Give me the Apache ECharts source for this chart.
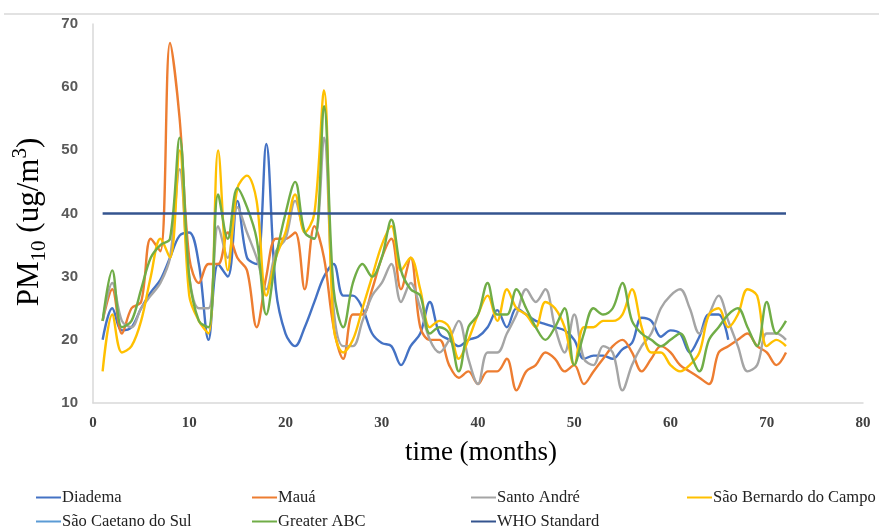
<!DOCTYPE html>
<html>
<head>
<meta charset="utf-8">
<script src="https://cdn.jsdelivr.net/npm/echarts@6/dist/echarts.min.js"></script>
<style>html,body{margin:0;padding:0;background:#fff}#c{width:879px;height:529px}</style>
</head>
<body>
<div id="c"></div>
<script>
var months = [1,2,3,4,5,6,7,8,9,10,11,12,13,14,15,16,17,18,19,20,21,22,23,24,25,26,27,28,29,30,31,32,33,34,35,36,37,38,39,40,41,42,43,44,45,46,47,48,49,50,51,52,53,54,55,56,57,58,59,60,61,62,63,64,65,66,67,68,69,70,71,72];
var xTicks = [0,10,20,30,40,50,60,70,80];
var yTicks = [10,20,30,40,50,60,70];

var diadema = [20,25,21.5,22,25,27.5,29.5,33,36.5,37,32,20, 32,30,42,33,32,51,28,21,19,22,26,30, 32,27,27,25,21,19.5,19,16,19,21,26,21, 20,19,20,20.5,22,24.7,22,25,24,23,22.5,22, 21.5,20,17,17.5,17.5,17,18.5,19.5,23.5,23,20.5,21.5, 21,18,20.5,24,24,20];
var maua = [23,28,21,25,26,36,34,67,55,33,29,32, 32,37,33,31,22,30,36,36,37,28,38,33, 22,17,24,24,28,33,36,28,33,22,20,20, 16,14,15,13,15,15,17,12,15,16,18,17, 15,16,13,15,17,19,20,18,15,17,19,18, 16,15,14,13,18,19,20,21,19,18,16,18];
var santoAndre = [23,29,23,22,25,27,29,33,47,30,25,25, 38,33,41,37,33,28,34,36,42,37,36,52, 25,19,19,23,27,29,32,26,29,25,20,18, 20,23,17,13,18,18,21,24,28,26,28,22, 18,24,17,16,19,18,12,16,19,21,25,27, 28,25,21,24,27,23,19,15,16,21,21,20];
var saoBernardo = [15,24,18,19,23,30,36,33,50,27,23,21, 50,31,44,46,42,27,33,37,43,37,40,59.5, 22,18,20,25,30,35,38,31,33,28,22,23, 22,17,20,24,27,23,28,25,24,22,26,25, 22,16,22,22,23,23,24,28,22,18,18,16, 15,16,18,24,25,22,24,28,27,19,20,19];
var saoCaetano = [];
var greaterABC = [23,31,22,23,28,33,35,36,52,30,23,22, 43,36,44,41,36,24,33,40,45,37,36,57, 28,22,29,32,30,33,39,31,28,27,21,22, 21,15,22,24,29,24,24,28,25,22,20,22, 25,16,21,25,24,25,29,23,21,20,19,20, 21,18,15,20,22,24,25,22,19,26,21,23];
var whoMonths = [1,72];
var whoValues = [40,40];

function pairs(xs, ys){ var out=[]; for(var i=0;i<ys.length;i++){ out.push([xs[i], ys[i]]); } return out; }

var names = ['Diadema','Mauá','Santo André','São Bernardo do Campo','São Caetano do Sul','Greater ABC','WHO Standard'];
var colors = ['#4472C4','#ED7D31','#A5A5A5','#FFC000','#5B9BD5','#70AD47','#34548F'];
var seriesData = [pairs(months,diadema), pairs(months,maua), pairs(months,santoAndre), pairs(months,saoBernardo), pairs(months,saoCaetano), pairs(months,greaterABC), pairs(whoMonths,whoValues)];

var series = names.map(function(n,i){
  return {name:n, type:'line', data:seriesData[i], smooth: i===6?false:0.35, showSymbol:false, symbol:'none',
    lineStyle:{color:colors[i], width: 2.4}, itemStyle:{color:colors[i]}, animation:false, z: 2+i};
});

var legendPos = [[36,489],[252,489],[471,489],[687,489],[36,513],[252,513],[471,513]];
var legends = names.map(function(n,i){
  return {data:[{name:n, icon:'rect'}], left:legendPos[i][0], top:legendPos[i][1], padding:0, itemWidth:25, itemHeight:2, itemGap:4,
    textStyle:{fontFamily:'Liberation Serif', fontSize:16.5, color:'#222', padding:[0,0,0,-4]}, selectedMode:false};
});

var chart = echarts.init(document.getElementById('c'), null, {renderer:'canvas'});
chart.setOption({
  animation:false,
  backgroundColor:'#fff',
  grid:{left:93, right:16, top:24, bottom:126},
  xAxis:{type:'value', min:0, max:80, interval:10,
    axisLine:{show:true, lineStyle:{color:'#d9d9d9', width:1.5}}, axisTick:{show:false}, splitLine:{show:false},
    axisLabel:{margin:13, fontFamily:'Liberation Serif', fontSize:15, fontWeight:'bold', color:'#404040',
      formatter:function(v){ return xTicks.indexOf(v)>=0 ? String(v) : ''; }}},
  yAxis:{type:'value', min:10, max:70, interval:10,
    axisLine:{show:true, lineStyle:{color:'#d9d9d9', width:1.5}}, axisTick:{show:false}, splitLine:{show:false},
    axisLabel:{margin:15, fontFamily:'Liberation Sans', fontSize:15, fontWeight:'bold', color:'#595959',
      formatter:function(v){ return yTicks.indexOf(v)>=0 ? String(v) : ''; }}},
  legend:legends,
  graphic:[
    {type:'line', shape:{x1:4,y1:14,x2:879,y2:14}, style:{stroke:'#d9d9d9', lineWidth:1.5}, silent:true},
    {type:'text', x:30, y:222, rotation:Math.PI/2, silent:true,
      style:{text:'{a|PM}{b|10}{a| (ug/m}{c|3}{a|)}', align:'center', verticalAlign:'middle',
        rich:{a:{fontFamily:'Liberation Serif', fontSize:31, color:'#000', lineHeight:40, verticalAlign:'middle'},
              b:{fontFamily:'Liberation Serif', fontSize:21, color:'#000', lineHeight:21, verticalAlign:'bottom'},
              c:{fontFamily:'Liberation Serif', fontSize:21, color:'#000', lineHeight:21, verticalAlign:'top'}}}},
    {type:'text', x:481, y:453, silent:true,
      style:{text:'time (months)', align:'center', verticalAlign:'middle', fontFamily:'Liberation Serif', fontSize:27, fill:'#000'}}
  ],
  series:series
});
</script>
</body>
</html>
